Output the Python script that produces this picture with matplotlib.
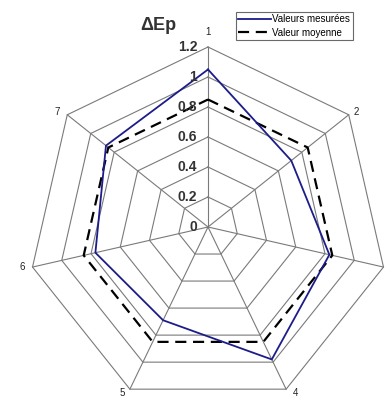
import numpy as np
import matplotlib
matplotlib.use('Agg')
import matplotlib.pyplot as plt

plt.rcParams['font.family'] = ['Liberation Sans', 'DejaVu Sans']

# data
axes_labels = ['1', '2', '3', '4', '5', '6', '7']
measured = [1.05, 0.71, 0.83, 0.98, 0.69, 0.77, 0.87]
mean_vals = [0.85, 0.85, 0.85, 0.85, 0.85, 0.85, 0.85]
ring_levels = [0.2, 0.4, 0.6, 0.8, 1.0, 1.2]
tick_labels = ['0', '0.2', '0.4', '0.6', '0.8', '1', '1.2']

n = len(axes_labels)
ang = np.pi / 2 - np.arange(n) * 2 * np.pi / n

def xy(vals):
    v = np.append(vals, vals[0])
    a = np.append(ang, ang[0])
    return v * np.cos(a), v * np.sin(a)

fig = plt.figure(figsize=(3.85, 3.99), dpi=100)
ax = fig.add_axes([0, 0, 1, 1])
s = 150.0  # px per unit
ax.set_xlim(-208 / s, 177 / s)
ax.set_ylim(-172 / s, 227 / s)
ax.axis('off')

grid_col = '#7a7a7a'
for r in ring_levels:
    gx, gy = xy(np.full(n, r))
    ax.plot(gx, gy, color=grid_col, lw=0.8, zorder=1)
rmax = ring_levels[-1]
for a in ang:
    ax.plot([0, rmax * np.cos(a)], [0, rmax * np.sin(a)], color=grid_col, lw=0.8, zorder=1)

# radial tick labels along axis 1
for i, t in enumerate(tick_labels):
    ax.text(-11 / s, i * 0.2, t, ha='right', va='center', fontsize=10,
            fontweight='bold', color='#333333', zorder=3)

# axis labels (label 3 falls outside the picture in the original)
offsets = {'1': (0, 15), '2': (8, 3), '4': (9, -4), '5': (-8, -4), '6': (-10, 0), '7': (-10, 3)}
for a, lab in zip(ang, axes_labels):
    if lab not in offsets:
        continue
    dx, dy = offsets[lab]
    ax.text(rmax * np.cos(a) + dx / s, rmax * np.sin(a) + dy / s, lab,
            ha='center', va='center', fontsize=7, color='#222222')

mx, my = xy(mean_vals)
ax.plot(mx, my, color='black', lw=1.6, ls=(0, (5, 3)), label='Valeur moyenne', zorder=2)
bx, by = xy(measured)
ax.plot(bx, by, color='#1c1c8a', lw=1.3, label='Valeurs mesurées', zorder=2)

ax.text(-50 / s, 202 / s, 'ΔEp', ha='center', va='center', fontsize=13,
        fontweight='bold', color='#333333')

h, l = ax.get_legend_handles_labels()
leg = ax.legend(h[::-1], l[::-1], loc='upper left', bbox_to_anchor=(236 / 385, 1 - 12 / 399),
                fontsize=7, frameon=True, fancybox=False, edgecolor='#444444',
                handlelength=3.4, handletextpad=0.1, borderpad=0.25, labelspacing=0.35,
                borderaxespad=0)
leg.get_frame().set_linewidth(0.8)

fig.savefig('out.png', dpi=100)
